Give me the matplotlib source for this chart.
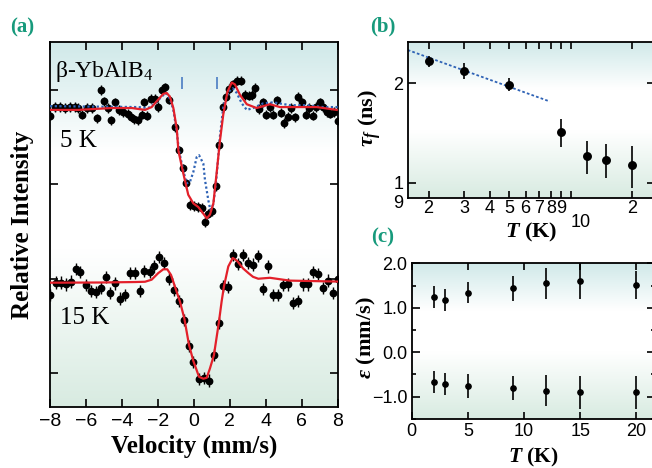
import numpy as np
import matplotlib
matplotlib.use('Agg')
import matplotlib.pyplot as plt
from matplotlib.colors import LinearSegmentedColormap
from matplotlib.ticker import MultipleLocator, FuncFormatter
from matplotlib.transforms import ScaledTranslation

# ---------------- data: panel (a) ----------------
vel5 = [-8.02, -7.74, -7.46, -7.19, -6.91, -6.63, -6.45, -6.22, -5.98, -5.70,
        -5.42, -5.18, -5.00, -4.77, -4.62, -4.40, -4.18, -3.94, -3.69, -3.51,
        -3.33, -3.14, -2.91, -2.79, -2.64, -2.40, -2.17, -1.99, -1.80, -1.62,
        -1.39, -1.06, -0.82, -0.63, -0.42, -0.22, 0.00, 0.22, 0.43, 0.61,
        0.80, 0.99, 1.21, 1.41, 1.60, 1.78, 1.97, 2.16, 2.38, 2.60,
        2.84, 3.08, 3.23, 3.42, 3.64, 3.83, 4.01, 4.23, 4.42, 4.64,
        4.83, 5.03, 5.22, 5.40, 5.63, 5.81, 6.00, 6.22, 6.42, 6.61,
        6.80, 7.02, 7.20, 7.39, 7.58, 7.80, 8.04]
int5 = [2.73, 2.82, 2.82, 2.81, 2.82, 2.82, 2.81, 2.74, 2.81, 2.81,
        2.70, 3.00, 2.88, 2.81, 2.68, 2.87, 2.79, 2.77, 2.75, 2.72,
        2.69, 2.68, 2.74, 2.87, 2.73, 2.91, 2.91, 2.82, 3.00, 3.03,
        2.90, 2.61, 2.36, 2.17, 2.01, 1.78, 1.77, 1.76, 1.75, 1.60,
        1.69, 1.72, 1.98, 2.42, 2.82, 2.93, 3.01, 3.06, 3.10, 3.10,
        2.95, 2.94, 2.95, 3.02, 2.80, 2.87, 2.74, 2.82, 2.74, 2.89,
        2.76, 2.65, 2.72, 2.81, 2.71, 2.93, 2.87, 2.74, 2.81, 2.73,
        2.82, 2.87, 2.82, 2.77, 2.75, 2.77, 2.67]
err5 = 0.05

vel15 = [-8.02, -7.70, -7.42, -7.14, -6.86, -6.57, -6.35, -6.02, -5.74, -5.46,
         -5.18, -4.90, -4.68, -4.40, -4.12, -3.84, -3.57, -3.29, -3.01, -2.77,
         -2.45, -2.21, -1.93, -1.65, -1.38, -1.10, -0.82, -0.56, -0.28, -0.04,
         0.28, 0.56, 0.84, 1.11, 1.39, 1.63, 1.91, 2.19, 2.47, 2.75,
         3.03, 3.30, 3.58, 3.86, 4.14, 4.42, 4.70, 4.97, 5.25, 5.53,
         5.81, 6.09, 6.37, 6.61, 6.89, 7.17, 7.45, 7.73, 8.01]
int15 = [0.83, 0.96, 0.96, 0.94, 0.97, 1.10, 1.07, 0.93, 0.87, 0.86,
         0.90, 1.02, 0.85, 0.95, 0.79, 0.83, 1.06, 1.06, 0.87, 1.08,
         1.07, 1.13, 1.23, 1.17, 1.00, 0.88, 0.76, 0.56, 0.29, 0.12,
         -0.06, -0.05, -0.08, 0.19, 0.53, 0.92, 0.91, 1.25, 1.16, 1.25,
         1.17, 1.15, 1.24, 0.89, 1.13, 0.83, 0.83, 0.93, 0.94, 0.74,
         0.76, 0.94, 0.94, 1.07, 1.05, 0.90, 0.98, 0.85, 1.00]
err15 = 0.065

fit5_v = [-8.02, -6.45, -4.58, -3.47, -2.73, -2.36, -1.99, -1.71, -1.52, -1.34,
          -1.15, -0.96, -0.87, -0.60, -0.32, -0.04, 0.24, 0.52, 0.71, 0.89,
          1.08, 1.26, 1.45, 1.63, 1.86, 2.10, 2.28, 2.56, 2.94, 3.49,
          4.23, 4.79, 5.72, 6.84, 7.95]
fit5_y = [2.79, 2.79, 2.81, 2.81, 2.79, 2.82, 2.90, 2.96, 2.97, 2.93,
          2.81, 2.59, 2.36, 2.12, 1.89, 1.80, 1.76, 1.69, 1.64, 1.68,
          1.80, 2.12, 2.47, 2.74, 2.98, 3.08, 3.06, 2.95, 2.85, 2.81,
          2.85, 2.82, 2.82, 2.82, 2.79]

alt5_v = [-8.02, -3.10, -2.55, -2.17, -1.80, -1.58, -1.34, -1.15, -0.96, -0.84,
          -0.60, -0.41, -0.22, -0.04, 0.15, 0.28, 0.52, 0.61, 0.80, 0.91,
          1.08, 1.26, 1.45, 1.63, 1.91, 2.16, 2.38, 2.66, 2.94, 3.30,
          3.86, 4.42, 5.35, 6.28, 7.20, 8.02]
alt5_y = [2.83, 2.82, 2.81, 2.86, 2.93, 2.97, 2.91, 2.79, 2.56, 2.36,
          2.15, 2.01, 2.03, 2.13, 2.29, 2.31, 2.22, 2.05, 1.83, 1.73,
          1.79, 2.09, 2.52, 2.82, 2.98, 3.02, 2.97, 2.86, 2.79, 2.81,
          2.86, 2.87, 2.84, 2.84, 2.82, 2.82]

fit15_v = [-8.02, -5.24, -3.29, -2.73, -2.36, -1.99, -1.71, -1.49, -1.28, -1.06,
           -0.78, -0.54, -0.28, -0.04, 0.28, 0.52, 0.71, 0.89, 1.11, 1.38,
           1.54, 1.67, 1.91, 2.16, 2.40, 2.73, 3.03, 3.29, 3.58, 4.23,
           4.96, 5.35, 8.02]
fit15_y = [0.958, 0.96, 0.965, 0.968, 0.99, 1.06, 1.10, 1.10, 1.04, 0.915,
           0.756, 0.58, 0.30, 0.13, -0.04, -0.06, -0.05, 0.05, 0.19, 0.53,
           0.76, 0.92, 1.13, 1.22, 1.19, 1.11, 1.06, 1.02, 1.00, 1.01,
           0.99, 0.98, 0.97]

site_v = [-0.65, 1.27]
site_lo = [3.01, 3.01]
site_hi = [3.14, 3.14]

# ---------------- data: panel (b) ----------------
T_b = [2, 3, 5, 9, 12, 15, 20]
tau = [2.33, 2.18, 1.98, 1.42, 1.20, 1.17, 1.13]
tau_err = [0.095, 0.125, 0.09, 0.14, 0.135, 0.14, 0.165]
trend_T = [1.58, 7.9]
trend_tau = [2.52, 1.76]

# ---------------- data: panel (c) ----------------
T_c = [2, 3, 5, 9, 12, 15, 20]
eps_up = [1.235, 1.175, 1.34, 1.44, 1.55, 1.60, 1.51]
eps_up_err = [0.244, 0.244, 0.236, 0.281, 0.345, 0.394, 0.319]
eps_lo = [-0.663, -0.723, -0.76, -0.813, -0.865, -0.90, -0.90]
eps_lo_err = [0.244, 0.244, 0.26, 0.27, 0.35, 0.375, 0.375]

# ---------------- style ----------------
plt.rcParams['font.family'] = ['Liberation Sans', 'DejaVu Sans']
plt.rcParams['mathtext.fontset'] = 'custom'
plt.rcParams['mathtext.rm'] = 'Liberation Serif:bold'
plt.rcParams['mathtext.bf'] = 'Liberation Serif:bold'
plt.rcParams['mathtext.it'] = 'Liberation Serif:italic:bold'
plt.rcParams['axes.linewidth'] = 1.3

RED = '#e3202a'
BLUE = '#2e62b5'
TEAL = '#179a7c'
SERIF = ['Liberation Serif', 'DejaVu Serif']

W, H = 652, 468
fig = plt.figure(figsize=(W / 100, H / 100), dpi=100)


def rect(l, t, r, b):
    return [l / W, 1 - b / H, (r - l) / W, (b - t) / H]


bg_cmap = LinearSegmentedColormap.from_list(
    'bg', [(0.0, '#d8ebe1'), (0.43, '#ffffff'), (0.70, '#ffffff'), (1.0, '#d0e9e9')])


def make_axes(pos):
    bg = fig.add_axes(pos, zorder=0)
    g = np.linspace(0, 1, 256).reshape(-1, 1)
    bg.imshow(g, cmap=bg_cmap, aspect='auto', origin='lower',
              extent=[0, 1, 0, 1], interpolation='bilinear')
    bg.set_axis_off()
    ax = fig.add_axes(pos, zorder=1)
    ax.patch.set_alpha(0)
    return ax


# ---------------- panel (a) ----------------
axA = make_axes(rect(50.4, 42, 337.6, 407))
axA.errorbar(vel5, int5, yerr=err5, fmt='o', color='k', ms=4.6,
             elinewidth=1.0, capsize=0, zorder=2)
axA.errorbar(vel15, int15, yerr=err15, fmt='o', color='k', ms=4.6,
             elinewidth=1.0, capsize=0, zorder=2)
axA.plot(alt5_v, alt5_y, color=BLUE, lw=1.6, ls=(0, (1, 1.1)), zorder=3)
axA.plot(fit5_v, fit5_y, color=RED, lw=1.6, zorder=4)
axA.plot(fit15_v, fit15_y, color=RED, lw=1.6, zorder=4)
axA.vlines(site_v, site_lo, site_hi, color='#4a7cc3', lw=1.2, zorder=4)
axA.set_xlim(-8, 8)
axA.set_ylim(-0.36, 3.51)
axA.set_xticks(range(-8, 9, 2))
axA.set_yticks([0, 1, 2, 3])
axA.set_yticklabels([])
axA.tick_params(direction='in', top=True, right=True, length=6, width=1.2,
                labelsize=14, pad=4)
axA.set_xlabel('Velocity (mm/s)', fontfamily=SERIF, fontweight='bold', fontsize=18)
axA.xaxis.set_label_coords(0.5, -0.076)
axA.set_ylabel('Relative Intensity', fontfamily=SERIF, fontweight='bold', fontsize=18)
axA.yaxis.set_label_coords(-0.058, 0.5)
axA.text(0.017, 0.904, 'β-YbAlB$_\\mathregular{4}$', transform=axA.transAxes,
         fontfamily=SERIF, fontsize=17, ha='left', va='baseline')
axA.text(0.035, 0.712, '5 K', transform=axA.transAxes, fontfamily=SERIF,
         fontsize=18, ha='left', va='baseline')
axA.text(0.032, 0.227, '15 K', transform=axA.transAxes, fontfamily=SERIF,
         fontsize=18, ha='left', va='baseline')

# ---------------- panel (b) ----------------
axB = make_axes(rect(407.7, 41.7, 655, 197.7))
axB.set_xscale('log')
axB.set_yscale('log')
axB.errorbar(T_b, tau, yerr=tau_err, fmt='o', color='k', ms=5.4,
             elinewidth=1.2, capsize=0, zorder=3)
axB.plot(trend_T, trend_tau, color=BLUE, lw=1.3, ls=(0, (1.5, 1.2)), zorder=2)
axB.set_xlim(1.58, 26)
axB.set_ylim(0.9, 2.67)
axB.set_xticks([10], labels=['10'])
axB.set_xticks([2, 3, 4, 5, 6, 7, 8, 9, 20],
               labels=['2', '3', '4', '5', '6', '7', '8', '9', '2'], minor=True)
axB.set_yticks([1, 2], labels=['1', '2'])
axB.set_yticks([0.9], labels=['9'], minor=True)
axB.tick_params(which='both', direction='in', top=True, right=True, width=1.2,
                labelsize=13, pad=3)
axB.tick_params(axis='x', which='both', length=5)
axB.tick_params(axis='x', which='minor', pad=1.5)
axB.tick_params(axis='x', which='major', pad=12)
axB.tick_params(axis='y', which='major', length=6)
axB.tick_params(axis='y', which='minor', length=0)
for lbl in axB.get_xticklabels():
    lbl.set_horizontalalignment('left')
for lbl in axB.get_yticklabels(minor=True):
    lbl.set_verticalalignment('top')
    lbl.set_transform(lbl.get_transform() + ScaledTranslation(0, 2 / 72, fig.dpi_scale_trans))
axB.set_ylabel(r'$\tau_f$ (ns)', fontfamily=SERIF, fontweight='bold', fontsize=16)
axB.yaxis.set_label_coords(-0.10, 0.51)
axB.set_xlabel(r'$T$ (K)', fontfamily=SERIF, fontweight='bold', fontsize=16)
axB.xaxis.set_label_coords(0.5, -0.15)

# ---------------- panel (c) ----------------
axC = make_axes(rect(411.7, 263.3, 655, 419.3))
axC.errorbar(T_c, eps_up, yerr=eps_up_err, fmt='o', color='k', ms=3.8,
             elinewidth=1.2, capsize=0, zorder=3)
axC.errorbar(T_c, eps_lo, yerr=eps_lo_err, fmt='o', color='k', ms=3.8,
             elinewidth=1.2, capsize=0, zorder=3)
axC.set_xlim(0, 21.66)
axC.set_ylim(-1.51, 2.0)
axC.set_xticks([0, 5, 10, 15, 20])
axC.set_yticks([-1, 0, 1, 2])
axC.yaxis.set_minor_locator(MultipleLocator(0.5))
axC.yaxis.set_major_formatter(FuncFormatter(lambda x, p: f'{x:.1f}'.replace('-', '\u2212')))
axC.tick_params(which='both', direction='in', top=True, right=True, width=1.2,
                labelsize=13, pad=3)
axC.tick_params(axis='x', which='major', length=5)
axC.tick_params(axis='y', which='major', length=6)
axC.tick_params(axis='y', which='minor', length=3)
axC.set_ylabel(r'$\varepsilon$ (mm/s)', fontfamily=SERIF, fontweight='bold', fontsize=16)
axC.yaxis.set_label_coords(-0.14, 0.52)
axC.set_xlabel(r'$T$ (K)', fontfamily=SERIF, fontweight='bold', fontsize=15.5)
axC.xaxis.set_label_coords(0.5, -0.172)

# ---------------- panel letters ----------------
for lab, xp, yp in [('(a)', 22, 27), ('(b)', 383, 26), ('(c)', 383, 237)]:
    fig.text(xp / W, 1 - yp / H, lab, color=TEAL, fontfamily=SERIF,
             fontweight='bold', fontsize=15, ha='center', va='center')

fig.savefig('out.png', dpi=100)
